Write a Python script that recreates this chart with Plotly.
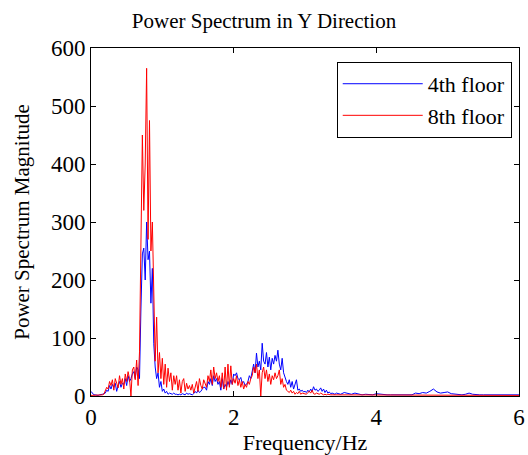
import numpy as np
import plotly.graph_objects as go

# frequency grid (Hz): fine below 3.5 Hz, coarser above
freq_low = np.round(np.arange(0, 3.5, 0.02), 3)
freq_high = np.round(np.arange(3.5, 6.0001, 0.05), 3)
freq = np.concatenate([freq_low, freq_high])

floor4_low = [
    8, 4, 2, 2, 1, 1, 2, 2, 3, 4,
    5, 10, 8, 18, 12, 20, 15, 22, 8, 18,
    25, 15, 22, 20, 30, 18, 35, 25, 30, 38,
    42, 30, 50, 45, 30, 150, 245, 255, 200, 300,
    235, 250, 160, 220, 90, 50, 30, 40, 15, 25,
    8, 12, 5, 8, 3, 5, 4, 3, 5, 3,
    3, 2, 3, 2, 4, 3, 2, 5, 3, 4,
    3, 2, 4, 8, 5, 10, 6, 8, 12, 15,
    15, 10, 25, 20, 30, 18, 35, 25, 30, 20,
    25, 10, 30, 12, 20, 15, 25, 18, 28, 20,
    38, 35, 40, 30, 28, 32, 22, 25, 18, 20,
    25, 35, 30, 45, 55, 40, 74, 50, 60, 45,
    91, 60, 55, 75, 50, 67, 45, 65, 55, 70,
    60, 79, 55, 45, 65, 40, 30, 25, 20, 28,
    15, 25, 12, 20, 28, 10, 12, 8, 10, 7,
    8, 6, 10, 7, 12, 8, 16, 10, 12, 8,
    10, 14, 8, 12, 6, 10, 5, 7, 4, 5,
    4, 3, 5, 4, 3,
]
floor4_high = [
    3, 6, 4, 3, 5, 3, 2, 3, 2, 2,
    4, 3, 2, 2, 2, 2, 2, 3, 2, 2,
    2, 5, 4, 6, 5, 8, 12, 7, 5, 6,
    7, 4, 3, 2, 2, 3, 5, 3, 2, 2,
    2, 2, 3, 2, 2, 2, 2, 2, 2, 2, 2,
]

floor8_low = [
    1, 1, 1, 1, 1, 1, 2, 2, 2, 3,
    8, 15, 12, 25, 18, 28, 10, 30, 22, 14,
    35, 20, 30, 12, 38, 25, 42, 30, 0, 45,
    50, 28, 62, 18, 76, 257, 450, 320, 400, 565,
    270, 475, 250, 300, 170, 60, 136, 40, 75, 30,
    65, 20, 55, 15, 48, 25, 40, 10, 35, 20,
    35, 10, 28, 5, 25, 30, 8, 22, 12, 18,
    10, 20, 5, 15, 25, 8, 30, 18, 12, 28,
    20, 15, 35, 25, 45, 20, 50, 30, 40, 25,
    35, 15, 40, 12, 50, 10, 55, 15, 52, 20,
    30, 22, 35, 18, 28, 15, 25, 12, 20, 15,
    25, 20, 30, 35, 50, 40, 55, 30, 45, 0,
    40, 50, 30, 45, 25, 38, 20, 35, 28, 40,
    30, 35, 45, 20, 30, 15, 20, 10, 8, 6,
    10, 5, 8, 3, 6, 4, 8, 3, 5, 4,
    4, 3, 6, 8, 5, 10, 4, 3, 5, 4,
    3, 5, 4, 2, 3, 2, 3, 2, 2, 2,
    2, 2, 2, 2, 2,
]
floor8_high = [
    2, 2, 1, 2, 1, 2, 1, 1, 2, 1,
    1, 2, 1, 1, 2, 1, 1, 2, 1, 1,
    2, 1, 1, 2, 1, 2, 1, 2, 1, 1,
    2, 1, 1, 2, 1, 1, 2, 1, 1, 2,
    1, 1, 2, 1, 1, 2, 1, 1, 2, 1, 1,
]

floor4 = floor4_low + floor4_high
floor8 = floor8_low + floor8_high

series_names = ["4th floor", "8th floor"]
x_ticks = [0, 2, 4, 6]
y_ticks = [0, 100, 200, 300, 400, 500, 600]

FONT = "Liberation Serif, Times New Roman, serif"

fig = go.Figure()
fig.add_trace(go.Scatter(x=freq, y=floor4, mode="lines", name=series_names[0],
                         line=dict(color="#0000FF", width=1)))
fig.add_trace(go.Scatter(x=freq, y=floor8, mode="lines", name=series_names[1],
                         line=dict(color="#FF0000", width=1)))

axis_common = dict(showline=True, mirror="ticks", linecolor="black", linewidth=1,
                   ticks="inside", ticklen=5, tickcolor="black", showgrid=False,
                   zeroline=False, automargin=False,
                   tickfont=dict(family=FONT, size=23, color="black"))

fig.update_layout(
    width=528, height=455,
    margin=dict(l=91, r=9, t=48, b=59),
    paper_bgcolor="white", plot_bgcolor="white",
    font=dict(family=FONT, color="black"),
    title=dict(text="Power Spectrum in Y Direction", x=0.5, xanchor="center",
               y=0.955, yanchor="middle", font=dict(family=FONT, size=21, color="black")),
    xaxis=dict(range=[0, 6], tickvals=x_ticks, ticktext=[str(v) for v in x_ticks],
               title=dict(text="Frequency/Hz", font=dict(family=FONT, size=22), standoff=11),
               **axis_common),
    yaxis=dict(range=[0, 600], tickvals=y_ticks, ticktext=[str(v) for v in y_ticks],
               title=dict(text="Power Spectrum Magnitude", font=dict(family=FONT, size=21), standoff=15),
               **axis_common),
    legend=dict(x=0.983, xanchor="right", y=0.96, yanchor="top",
                bgcolor="white", bordercolor="black", borderwidth=1,
                font=dict(family=FONT, size=22, color="black"),
                itemwidth=80, tracegroupgap=0),
    showlegend=True,
)

fig.write_html("out.html")
